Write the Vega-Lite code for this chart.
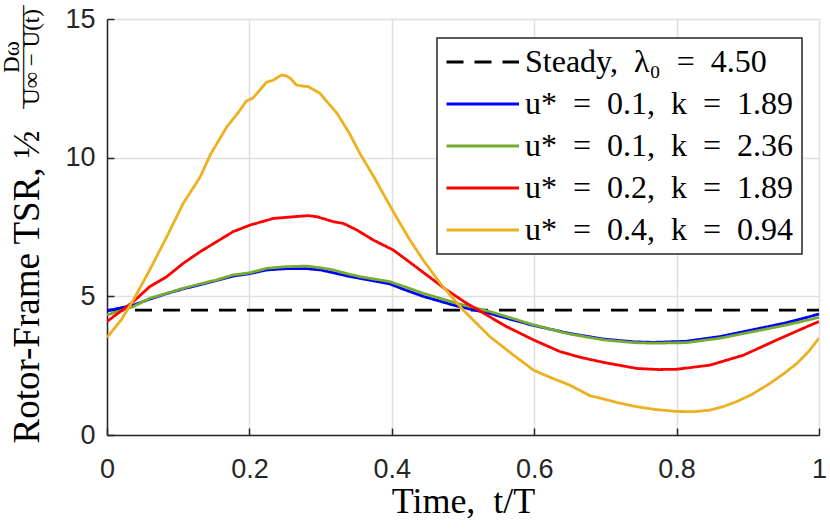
{
  "$schema": "https://vega.github.io/schema/vega-lite/v6.json",
  "width": 712,
  "height": 416,
  "autosize": {"type": "none"},
  "padding": {"left": 107, "top": 19, "right": 11, "bottom": 97},
  "background": "white",
  "title": {
    "text": ["Dω", "————–", "U∞ − U(t)"],
    "orient": "left",
    "anchor": "end",
    "frame": "group",
    "align": "center",
    "baseline": "alphabetic",
    "font": "Liberation Serif",
    "fontSize": 23,
    "fontWeight": "normal",
    "color": "black",
    "lineHeight": 10,
    "offset": -54,
    "dx": -38
  },
  "data": {
    "values": [
      {"series": "Steady,\u2002λ₀\u2002=\u20024.50", "t": 0, "v": 4.5},
      {"series": "Steady,\u2002λ₀\u2002=\u20024.50", "t": 1, "v": 4.5},

      {"series": "u*\u2002=\u20020.1,\u2002k\u2002=\u20021.89", "t": 0.000, "v": 4.48},
      {"series": "u*\u2002=\u20020.1,\u2002k\u2002=\u20021.89", "t": 0.037, "v": 4.68},
      {"series": "u*\u2002=\u20020.1,\u2002k\u2002=\u20021.89", "t": 0.060, "v": 4.90},
      {"series": "u*\u2002=\u20020.1,\u2002k\u2002=\u20021.89", "t": 0.084, "v": 5.10},
      {"series": "u*\u2002=\u20020.1,\u2002k\u2002=\u20021.89", "t": 0.107, "v": 5.27},
      {"series": "u*\u2002=\u20020.1,\u2002k\u2002=\u20021.89", "t": 0.131, "v": 5.42},
      {"series": "u*\u2002=\u20020.1,\u2002k\u2002=\u20021.89", "t": 0.154, "v": 5.57},
      {"series": "u*\u2002=\u20020.1,\u2002k\u2002=\u20021.89", "t": 0.177, "v": 5.73},
      {"series": "u*\u2002=\u20020.1,\u2002k\u2002=\u20021.89", "t": 0.201, "v": 5.82},
      {"series": "u*\u2002=\u20020.1,\u2002k\u2002=\u20021.89", "t": 0.224, "v": 5.95},
      {"series": "u*\u2002=\u20020.1,\u2002k\u2002=\u20021.89", "t": 0.252, "v": 6.00},
      {"series": "u*\u2002=\u20020.1,\u2002k\u2002=\u20021.89", "t": 0.280, "v": 6.00},
      {"series": "u*\u2002=\u20020.1,\u2002k\u2002=\u20021.89", "t": 0.300, "v": 5.95},
      {"series": "u*\u2002=\u20020.1,\u2002k\u2002=\u20021.89", "t": 0.318, "v": 5.85},
      {"series": "u*\u2002=\u20020.1,\u2002k\u2002=\u20021.89", "t": 0.340, "v": 5.72},
      {"series": "u*\u2002=\u20020.1,\u2002k\u2002=\u20021.89", "t": 0.355, "v": 5.65},
      {"series": "u*\u2002=\u20020.1,\u2002k\u2002=\u20021.89", "t": 0.397, "v": 5.45},
      {"series": "u*\u2002=\u20020.1,\u2002k\u2002=\u20021.89", "t": 0.420, "v": 5.22},
      {"series": "u*\u2002=\u20020.1,\u2002k\u2002=\u20021.89", "t": 0.444, "v": 5.00},
      {"series": "u*\u2002=\u20020.1,\u2002k\u2002=\u20021.89", "t": 0.491, "v": 4.65},
      {"series": "u*\u2002=\u20020.1,\u2002k\u2002=\u20021.89", "t": 0.538, "v": 4.38},
      {"series": "u*\u2002=\u20020.1,\u2002k\u2002=\u20021.89", "t": 0.570, "v": 4.15},
      {"series": "u*\u2002=\u20020.1,\u2002k\u2002=\u20021.89", "t": 0.599, "v": 3.95},
      {"series": "u*\u2002=\u20020.1,\u2002k\u2002=\u20021.89", "t": 0.650, "v": 3.66},
      {"series": "u*\u2002=\u20020.1,\u2002k\u2002=\u20021.89", "t": 0.697, "v": 3.46},
      {"series": "u*\u2002=\u20020.1,\u2002k\u2002=\u20021.89", "t": 0.740, "v": 3.36},
      {"series": "u*\u2002=\u20020.1,\u2002k\u2002=\u20021.89", "t": 0.767, "v": 3.34},
      {"series": "u*\u2002=\u20020.1,\u2002k\u2002=\u20021.89", "t": 0.814, "v": 3.38},
      {"series": "u*\u2002=\u20020.1,\u2002k\u2002=\u20021.89", "t": 0.861, "v": 3.55},
      {"series": "u*\u2002=\u20020.1,\u2002k\u2002=\u20021.89", "t": 0.908, "v": 3.80},
      {"series": "u*\u2002=\u20020.1,\u2002k\u2002=\u20021.89", "t": 0.955, "v": 4.05},
      {"series": "u*\u2002=\u20020.1,\u2002k\u2002=\u20021.89", "t": 1.000, "v": 4.36},

      {"series": "u*\u2002=\u20020.1,\u2002k\u2002=\u20022.36", "t": 0.000, "v": 4.33},
      {"series": "u*\u2002=\u20020.1,\u2002k\u2002=\u20022.36", "t": 0.037, "v": 4.63},
      {"series": "u*\u2002=\u20020.1,\u2002k\u2002=\u20022.36", "t": 0.060, "v": 4.93},
      {"series": "u*\u2002=\u20020.1,\u2002k\u2002=\u20022.36", "t": 0.084, "v": 5.11},
      {"series": "u*\u2002=\u20020.1,\u2002k\u2002=\u20022.36", "t": 0.107, "v": 5.29},
      {"series": "u*\u2002=\u20020.1,\u2002k\u2002=\u20022.36", "t": 0.131, "v": 5.45},
      {"series": "u*\u2002=\u20020.1,\u2002k\u2002=\u20022.36", "t": 0.154, "v": 5.59},
      {"series": "u*\u2002=\u20020.1,\u2002k\u2002=\u20022.36", "t": 0.177, "v": 5.77},
      {"series": "u*\u2002=\u20020.1,\u2002k\u2002=\u20022.36", "t": 0.201, "v": 5.85},
      {"series": "u*\u2002=\u20020.1,\u2002k\u2002=\u20022.36", "t": 0.224, "v": 6.01},
      {"series": "u*\u2002=\u20020.1,\u2002k\u2002=\u20022.36", "t": 0.252, "v": 6.07},
      {"series": "u*\u2002=\u20020.1,\u2002k\u2002=\u20022.36", "t": 0.280, "v": 6.09},
      {"series": "u*\u2002=\u20020.1,\u2002k\u2002=\u20022.36", "t": 0.300, "v": 6.03},
      {"series": "u*\u2002=\u20020.1,\u2002k\u2002=\u20022.36", "t": 0.318, "v": 5.95},
      {"series": "u*\u2002=\u20020.1,\u2002k\u2002=\u20022.36", "t": 0.340, "v": 5.80},
      {"series": "u*\u2002=\u20020.1,\u2002k\u2002=\u20022.36", "t": 0.355, "v": 5.71},
      {"series": "u*\u2002=\u20020.1,\u2002k\u2002=\u20022.36", "t": 0.397, "v": 5.53},
      {"series": "u*\u2002=\u20020.1,\u2002k\u2002=\u20022.36", "t": 0.420, "v": 5.33},
      {"series": "u*\u2002=\u20020.1,\u2002k\u2002=\u20022.36", "t": 0.444, "v": 5.11},
      {"series": "u*\u2002=\u20020.1,\u2002k\u2002=\u20022.36", "t": 0.491, "v": 4.75},
      {"series": "u*\u2002=\u20020.1,\u2002k\u2002=\u20022.36", "t": 0.538, "v": 4.45},
      {"series": "u*\u2002=\u20020.1,\u2002k\u2002=\u20022.36", "t": 0.570, "v": 4.20},
      {"series": "u*\u2002=\u20020.1,\u2002k\u2002=\u20022.36", "t": 0.599, "v": 3.97},
      {"series": "u*\u2002=\u20020.1,\u2002k\u2002=\u20022.36", "t": 0.650, "v": 3.64},
      {"series": "u*\u2002=\u20020.1,\u2002k\u2002=\u20022.36", "t": 0.697, "v": 3.43},
      {"series": "u*\u2002=\u20020.1,\u2002k\u2002=\u20022.36", "t": 0.740, "v": 3.33},
      {"series": "u*\u2002=\u20020.1,\u2002k\u2002=\u20022.36", "t": 0.767, "v": 3.31},
      {"series": "u*\u2002=\u20020.1,\u2002k\u2002=\u20022.36", "t": 0.814, "v": 3.33},
      {"series": "u*\u2002=\u20020.1,\u2002k\u2002=\u20022.36", "t": 0.861, "v": 3.49},
      {"series": "u*\u2002=\u20020.1,\u2002k\u2002=\u20022.36", "t": 0.908, "v": 3.73},
      {"series": "u*\u2002=\u20020.1,\u2002k\u2002=\u20022.36", "t": 0.955, "v": 3.97},
      {"series": "u*\u2002=\u20020.1,\u2002k\u2002=\u20022.36", "t": 1.000, "v": 4.24},

      {"series": "u*\u2002=\u20020.2,\u2002k\u2002=\u20021.89", "t": 0.000, "v": 4.09},
      {"series": "u*\u2002=\u20020.2,\u2002k\u2002=\u20021.89", "t": 0.037, "v": 4.81},
      {"series": "u*\u2002=\u20020.2,\u2002k\u2002=\u20021.89", "t": 0.060, "v": 5.35},
      {"series": "u*\u2002=\u20020.2,\u2002k\u2002=\u20021.89", "t": 0.084, "v": 5.71},
      {"series": "u*\u2002=\u20020.2,\u2002k\u2002=\u20021.89", "t": 0.107, "v": 6.19},
      {"series": "u*\u2002=\u20020.2,\u2002k\u2002=\u20021.89", "t": 0.131, "v": 6.61},
      {"series": "u*\u2002=\u20020.2,\u2002k\u2002=\u20021.89", "t": 0.154, "v": 6.97},
      {"series": "u*\u2002=\u20020.2,\u2002k\u2002=\u20021.89", "t": 0.177, "v": 7.33},
      {"series": "u*\u2002=\u20020.2,\u2002k\u2002=\u20021.89", "t": 0.201, "v": 7.57},
      {"series": "u*\u2002=\u20020.2,\u2002k\u2002=\u20021.89", "t": 0.234, "v": 7.81},
      {"series": "u*\u2002=\u20020.2,\u2002k\u2002=\u20021.89", "t": 0.262, "v": 7.87},
      {"series": "u*\u2002=\u20020.2,\u2002k\u2002=\u20021.89", "t": 0.283, "v": 7.91},
      {"series": "u*\u2002=\u20020.2,\u2002k\u2002=\u20021.89", "t": 0.295, "v": 7.87},
      {"series": "u*\u2002=\u20020.2,\u2002k\u2002=\u20021.89", "t": 0.318, "v": 7.69},
      {"series": "u*\u2002=\u20020.2,\u2002k\u2002=\u20021.89", "t": 0.332, "v": 7.63},
      {"series": "u*\u2002=\u20020.2,\u2002k\u2002=\u20021.89", "t": 0.351, "v": 7.39},
      {"series": "u*\u2002=\u20020.2,\u2002k\u2002=\u20021.89", "t": 0.374, "v": 7.03},
      {"series": "u*\u2002=\u20020.2,\u2002k\u2002=\u20021.89", "t": 0.402, "v": 6.67},
      {"series": "u*\u2002=\u20020.2,\u2002k\u2002=\u20021.89", "t": 0.421, "v": 6.31},
      {"series": "u*\u2002=\u20020.2,\u2002k\u2002=\u20021.89", "t": 0.449, "v": 5.77},
      {"series": "u*\u2002=\u20020.2,\u2002k\u2002=\u20021.89", "t": 0.477, "v": 5.23},
      {"series": "u*\u2002=\u20020.2,\u2002k\u2002=\u20021.89", "t": 0.505, "v": 4.75},
      {"series": "u*\u2002=\u20020.2,\u2002k\u2002=\u20021.89", "t": 0.529, "v": 4.39},
      {"series": "u*\u2002=\u20020.2,\u2002k\u2002=\u20021.89", "t": 0.561, "v": 3.91},
      {"series": "u*\u2002=\u20020.2,\u2002k\u2002=\u20021.89", "t": 0.599, "v": 3.43},
      {"series": "u*\u2002=\u20020.2,\u2002k\u2002=\u20021.89", "t": 0.636, "v": 3.01},
      {"series": "u*\u2002=\u20020.2,\u2002k\u2002=\u20021.89", "t": 0.665, "v": 2.80},
      {"series": "u*\u2002=\u20020.2,\u2002k\u2002=\u20021.89", "t": 0.697, "v": 2.62},
      {"series": "u*\u2002=\u20020.2,\u2002k\u2002=\u20021.89", "t": 0.744, "v": 2.40},
      {"series": "u*\u2002=\u20020.2,\u2002k\u2002=\u20021.89", "t": 0.775, "v": 2.36},
      {"series": "u*\u2002=\u20020.2,\u2002k\u2002=\u20021.89", "t": 0.800, "v": 2.37},
      {"series": "u*\u2002=\u20020.2,\u2002k\u2002=\u20021.89", "t": 0.847, "v": 2.52},
      {"series": "u*\u2002=\u20020.2,\u2002k\u2002=\u20021.89", "t": 0.894, "v": 2.88},
      {"series": "u*\u2002=\u20020.2,\u2002k\u2002=\u20021.89", "t": 0.941, "v": 3.43},
      {"series": "u*\u2002=\u20020.2,\u2002k\u2002=\u20021.89", "t": 0.978, "v": 3.85},
      {"series": "u*\u2002=\u20020.2,\u2002k\u2002=\u20021.89", "t": 1.000, "v": 4.09},

      {"series": "u*\u2002=\u20020.4,\u2002k\u2002=\u20020.94", "t": 0.000, "v": 3.52},
      {"series": "u*\u2002=\u20020.4,\u2002k\u2002=\u20020.94", "t": 0.020, "v": 4.15},
      {"series": "u*\u2002=\u20020.4,\u2002k\u2002=\u20020.94", "t": 0.037, "v": 4.87},
      {"series": "u*\u2002=\u20020.4,\u2002k\u2002=\u20020.94", "t": 0.060, "v": 5.95},
      {"series": "u*\u2002=\u20020.4,\u2002k\u2002=\u20020.94", "t": 0.084, "v": 7.15},
      {"series": "u*\u2002=\u20020.4,\u2002k\u2002=\u20020.94", "t": 0.107, "v": 8.35},
      {"series": "u*\u2002=\u20020.4,\u2002k\u2002=\u20020.94", "t": 0.131, "v": 9.31},
      {"series": "u*\u2002=\u20020.4,\u2002k\u2002=\u20020.94", "t": 0.145, "v": 10.10},
      {"series": "u*\u2002=\u20020.4,\u2002k\u2002=\u20020.94", "t": 0.168, "v": 11.10},
      {"series": "u*\u2002=\u20020.4,\u2002k\u2002=\u20020.94", "t": 0.185, "v": 11.65},
      {"series": "u*\u2002=\u20020.4,\u2002k\u2002=\u20020.94", "t": 0.196, "v": 12.05},
      {"series": "u*\u2002=\u20020.4,\u2002k\u2002=\u20020.94", "t": 0.205, "v": 12.15},
      {"series": "u*\u2002=\u20020.4,\u2002k\u2002=\u20020.94", "t": 0.215, "v": 12.45},
      {"series": "u*\u2002=\u20020.4,\u2002k\u2002=\u20020.94", "t": 0.224, "v": 12.72},
      {"series": "u*\u2002=\u20020.4,\u2002k\u2002=\u20020.94", "t": 0.234, "v": 12.80},
      {"series": "u*\u2002=\u20020.4,\u2002k\u2002=\u20020.94", "t": 0.240, "v": 12.90},
      {"series": "u*\u2002=\u20020.4,\u2002k\u2002=\u20020.94", "t": 0.245, "v": 12.98},
      {"series": "u*\u2002=\u20020.4,\u2002k\u2002=\u20020.94", "t": 0.252, "v": 12.95},
      {"series": "u*\u2002=\u20020.4,\u2002k\u2002=\u20020.94", "t": 0.258, "v": 12.85},
      {"series": "u*\u2002=\u20020.4,\u2002k\u2002=\u20020.94", "t": 0.266, "v": 12.62},
      {"series": "u*\u2002=\u20020.4,\u2002k\u2002=\u20020.94", "t": 0.275, "v": 12.58},
      {"series": "u*\u2002=\u20020.4,\u2002k\u2002=\u20020.94", "t": 0.283, "v": 12.56},
      {"series": "u*\u2002=\u20020.4,\u2002k\u2002=\u20020.94", "t": 0.299, "v": 12.32},
      {"series": "u*\u2002=\u20020.4,\u2002k\u2002=\u20020.94", "t": 0.323, "v": 11.60},
      {"series": "u*\u2002=\u20020.4,\u2002k\u2002=\u20020.94", "t": 0.340, "v": 10.90},
      {"series": "u*\u2002=\u20020.4,\u2002k\u2002=\u20020.94", "t": 0.355, "v": 10.16},
      {"series": "u*\u2002=\u20020.4,\u2002k\u2002=\u20020.94", "t": 0.375, "v": 9.30},
      {"series": "u*\u2002=\u20020.4,\u2002k\u2002=\u20020.94", "t": 0.393, "v": 8.47},
      {"series": "u*\u2002=\u20020.4,\u2002k\u2002=\u20020.94", "t": 0.410, "v": 7.70},
      {"series": "u*\u2002=\u20020.4,\u2002k\u2002=\u20020.94", "t": 0.425, "v": 7.05},
      {"series": "u*\u2002=\u20020.4,\u2002k\u2002=\u20020.94", "t": 0.444, "v": 6.31},
      {"series": "u*\u2002=\u20020.4,\u2002k\u2002=\u20020.94", "t": 0.468, "v": 5.47},
      {"series": "u*\u2002=\u20020.4,\u2002k\u2002=\u20020.94", "t": 0.500, "v": 4.51},
      {"series": "u*\u2002=\u20020.4,\u2002k\u2002=\u20020.94", "t": 0.538, "v": 3.54},
      {"series": "u*\u2002=\u20020.4,\u2002k\u2002=\u20020.94", "t": 0.570, "v": 2.90},
      {"series": "u*\u2002=\u20020.4,\u2002k\u2002=\u20020.94", "t": 0.599, "v": 2.34},
      {"series": "u*\u2002=\u20020.4,\u2002k\u2002=\u20020.94", "t": 0.625, "v": 2.05},
      {"series": "u*\u2002=\u20020.4,\u2002k\u2002=\u20020.94", "t": 0.650, "v": 1.80},
      {"series": "u*\u2002=\u20020.4,\u2002k\u2002=\u20020.94", "t": 0.678, "v": 1.42},
      {"series": "u*\u2002=\u20020.4,\u2002k\u2002=\u20020.94", "t": 0.697, "v": 1.30},
      {"series": "u*\u2002=\u20020.4,\u2002k\u2002=\u20020.94", "t": 0.720, "v": 1.15},
      {"series": "u*\u2002=\u20020.4,\u2002k\u2002=\u20020.94", "t": 0.744, "v": 1.02},
      {"series": "u*\u2002=\u20020.4,\u2002k\u2002=\u20020.94", "t": 0.770, "v": 0.92},
      {"series": "u*\u2002=\u20020.4,\u2002k\u2002=\u20020.94", "t": 0.800, "v": 0.85},
      {"series": "u*\u2002=\u20020.4,\u2002k\u2002=\u20020.94", "t": 0.825, "v": 0.84},
      {"series": "u*\u2002=\u20020.4,\u2002k\u2002=\u20020.94", "t": 0.847, "v": 0.90},
      {"series": "u*\u2002=\u20020.4,\u2002k\u2002=\u20020.94", "t": 0.865, "v": 1.02},
      {"series": "u*\u2002=\u20020.4,\u2002k\u2002=\u20020.94", "t": 0.884, "v": 1.20},
      {"series": "u*\u2002=\u20020.4,\u2002k\u2002=\u20020.94", "t": 0.905, "v": 1.45},
      {"series": "u*\u2002=\u20020.4,\u2002k\u2002=\u20020.94", "t": 0.931, "v": 1.86},
      {"series": "u*\u2002=\u20020.4,\u2002k\u2002=\u20020.94", "t": 0.950, "v": 2.20},
      {"series": "u*\u2002=\u20020.4,\u2002k\u2002=\u20020.94", "t": 0.969, "v": 2.58},
      {"series": "u*\u2002=\u20020.4,\u2002k\u2002=\u20020.94", "t": 0.985, "v": 3.00},
      {"series": "u*\u2002=\u20020.4,\u2002k\u2002=\u20020.94", "t": 1.000, "v": 3.49}
    ]
  },
  "mark": {"type": "line", "strokeWidth": 2.8, "clip": true},
  "encoding": {
    "x": {
      "field": "t",
      "type": "quantitative",
      "scale": {"domain": [0, 1], "nice": false},
      "axis": {
        "values": [0, 0.2, 0.4, 0.6, 0.8, 1],
        "format": ".1~f",
        "title": "Time,\u2002t/T",
        "titleFont": "Liberation Serif",
        "titleFontSize": 36,
        "titleFontWeight": "normal",
        "titleColor": "black",
        "titleX": 356,
        "titleY": 77,
        "titleAlign": "center",
        "titleBaseline": "alphabetic",
        "labelFont": "Liberation Sans",
        "labelFontSize": 27,
        "labelColor": "#262626",
        "labelPadding": 28,
        "labelFlush": false,
        "tickSize": -7,
        "tickWidth": 1.5,
        "tickColor": "#262626",
        "domainColor": "#262626",
        "domainWidth": 1.5,
        "grid": true,
        "gridColor": "#dfdfdf",
        "gridWidth": 1.5
      }
    },
    "y": {
      "field": "v",
      "type": "quantitative",
      "scale": {"domain": [0, 15], "nice": false},
      "axis": {
        "values": [0, 5, 10, 15],
        "title": "Rotor-Frame TSR, ½",
        "titleFont": "Liberation Serif",
        "titleFontSize": 37,
        "titleFontWeight": "normal",
        "titleColor": "black",
        "titleAngle": 270,
        "titleAlign": "left",
        "titleBaseline": "alphabetic",
        "titleX": -69,
        "titleY": 424,
        "labelFont": "Liberation Sans",
        "labelFontSize": 27,
        "labelColor": "#262626",
        "labelPadding": 19,
        "labelFlush": false,
        "tickSize": -7,
        "tickWidth": 1.5,
        "tickColor": "#262626",
        "domainColor": "#262626",
        "domainWidth": 1.5,
        "grid": true,
        "gridColor": "#dfdfdf",
        "gridWidth": 1.5
      }
    },
    "color": {
      "field": "series",
      "type": "nominal",
      "scale": {
        "domain": ["Steady,\u2002λ₀\u2002=\u20024.50", "u*\u2002=\u20020.1,\u2002k\u2002=\u20021.89", "u*\u2002=\u20020.1,\u2002k\u2002=\u20022.36", "u*\u2002=\u20020.2,\u2002k\u2002=\u20021.89", "u*\u2002=\u20020.4,\u2002k\u2002=\u20020.94"],
        "range": ["#000000", "#0000ff", "#77ac30", "#ff0000", "#edb120"]
      },
      "legend": {
        "title": null,
        "orient": "none",
        "legendX": 330,
        "legendY": 19
      }
    },
    "strokeDash": {
      "field": "series",
      "type": "nominal",
      "scale": {
        "domain": ["Steady,\u2002λ₀\u2002=\u20024.50", "u*\u2002=\u20020.1,\u2002k\u2002=\u20021.89", "u*\u2002=\u20020.1,\u2002k\u2002=\u20022.36", "u*\u2002=\u20020.2,\u2002k\u2002=\u20021.89", "u*\u2002=\u20020.4,\u2002k\u2002=\u20020.94"],
        "range": [[17, 11], [1, 0], [1, 0], [1, 0], [1, 0]]
      },
      "legend": {
        "title": null,
        "orient": "none",
        "legendX": 330,
        "legendY": 19
      }
    }
  },
  "config": {
    "view": {"stroke": null},
    "legend": {
      "symbolType": "M -1 0 H 4",
      "symbolSize": 841,
      "symbolStrokeWidth": 3,
      "labelFont": "Liberation Serif",
      "labelFontSize": 32,
      "labelColor": "black",
      "labelLimit": 500,
      "labelOffset": 48,
      "strokeColor": "#262626",
      "strokeWidth": 1.5,
      "fillColor": "white",
      "padding": 8,
      "rowPadding": 10
    }
  }
}
